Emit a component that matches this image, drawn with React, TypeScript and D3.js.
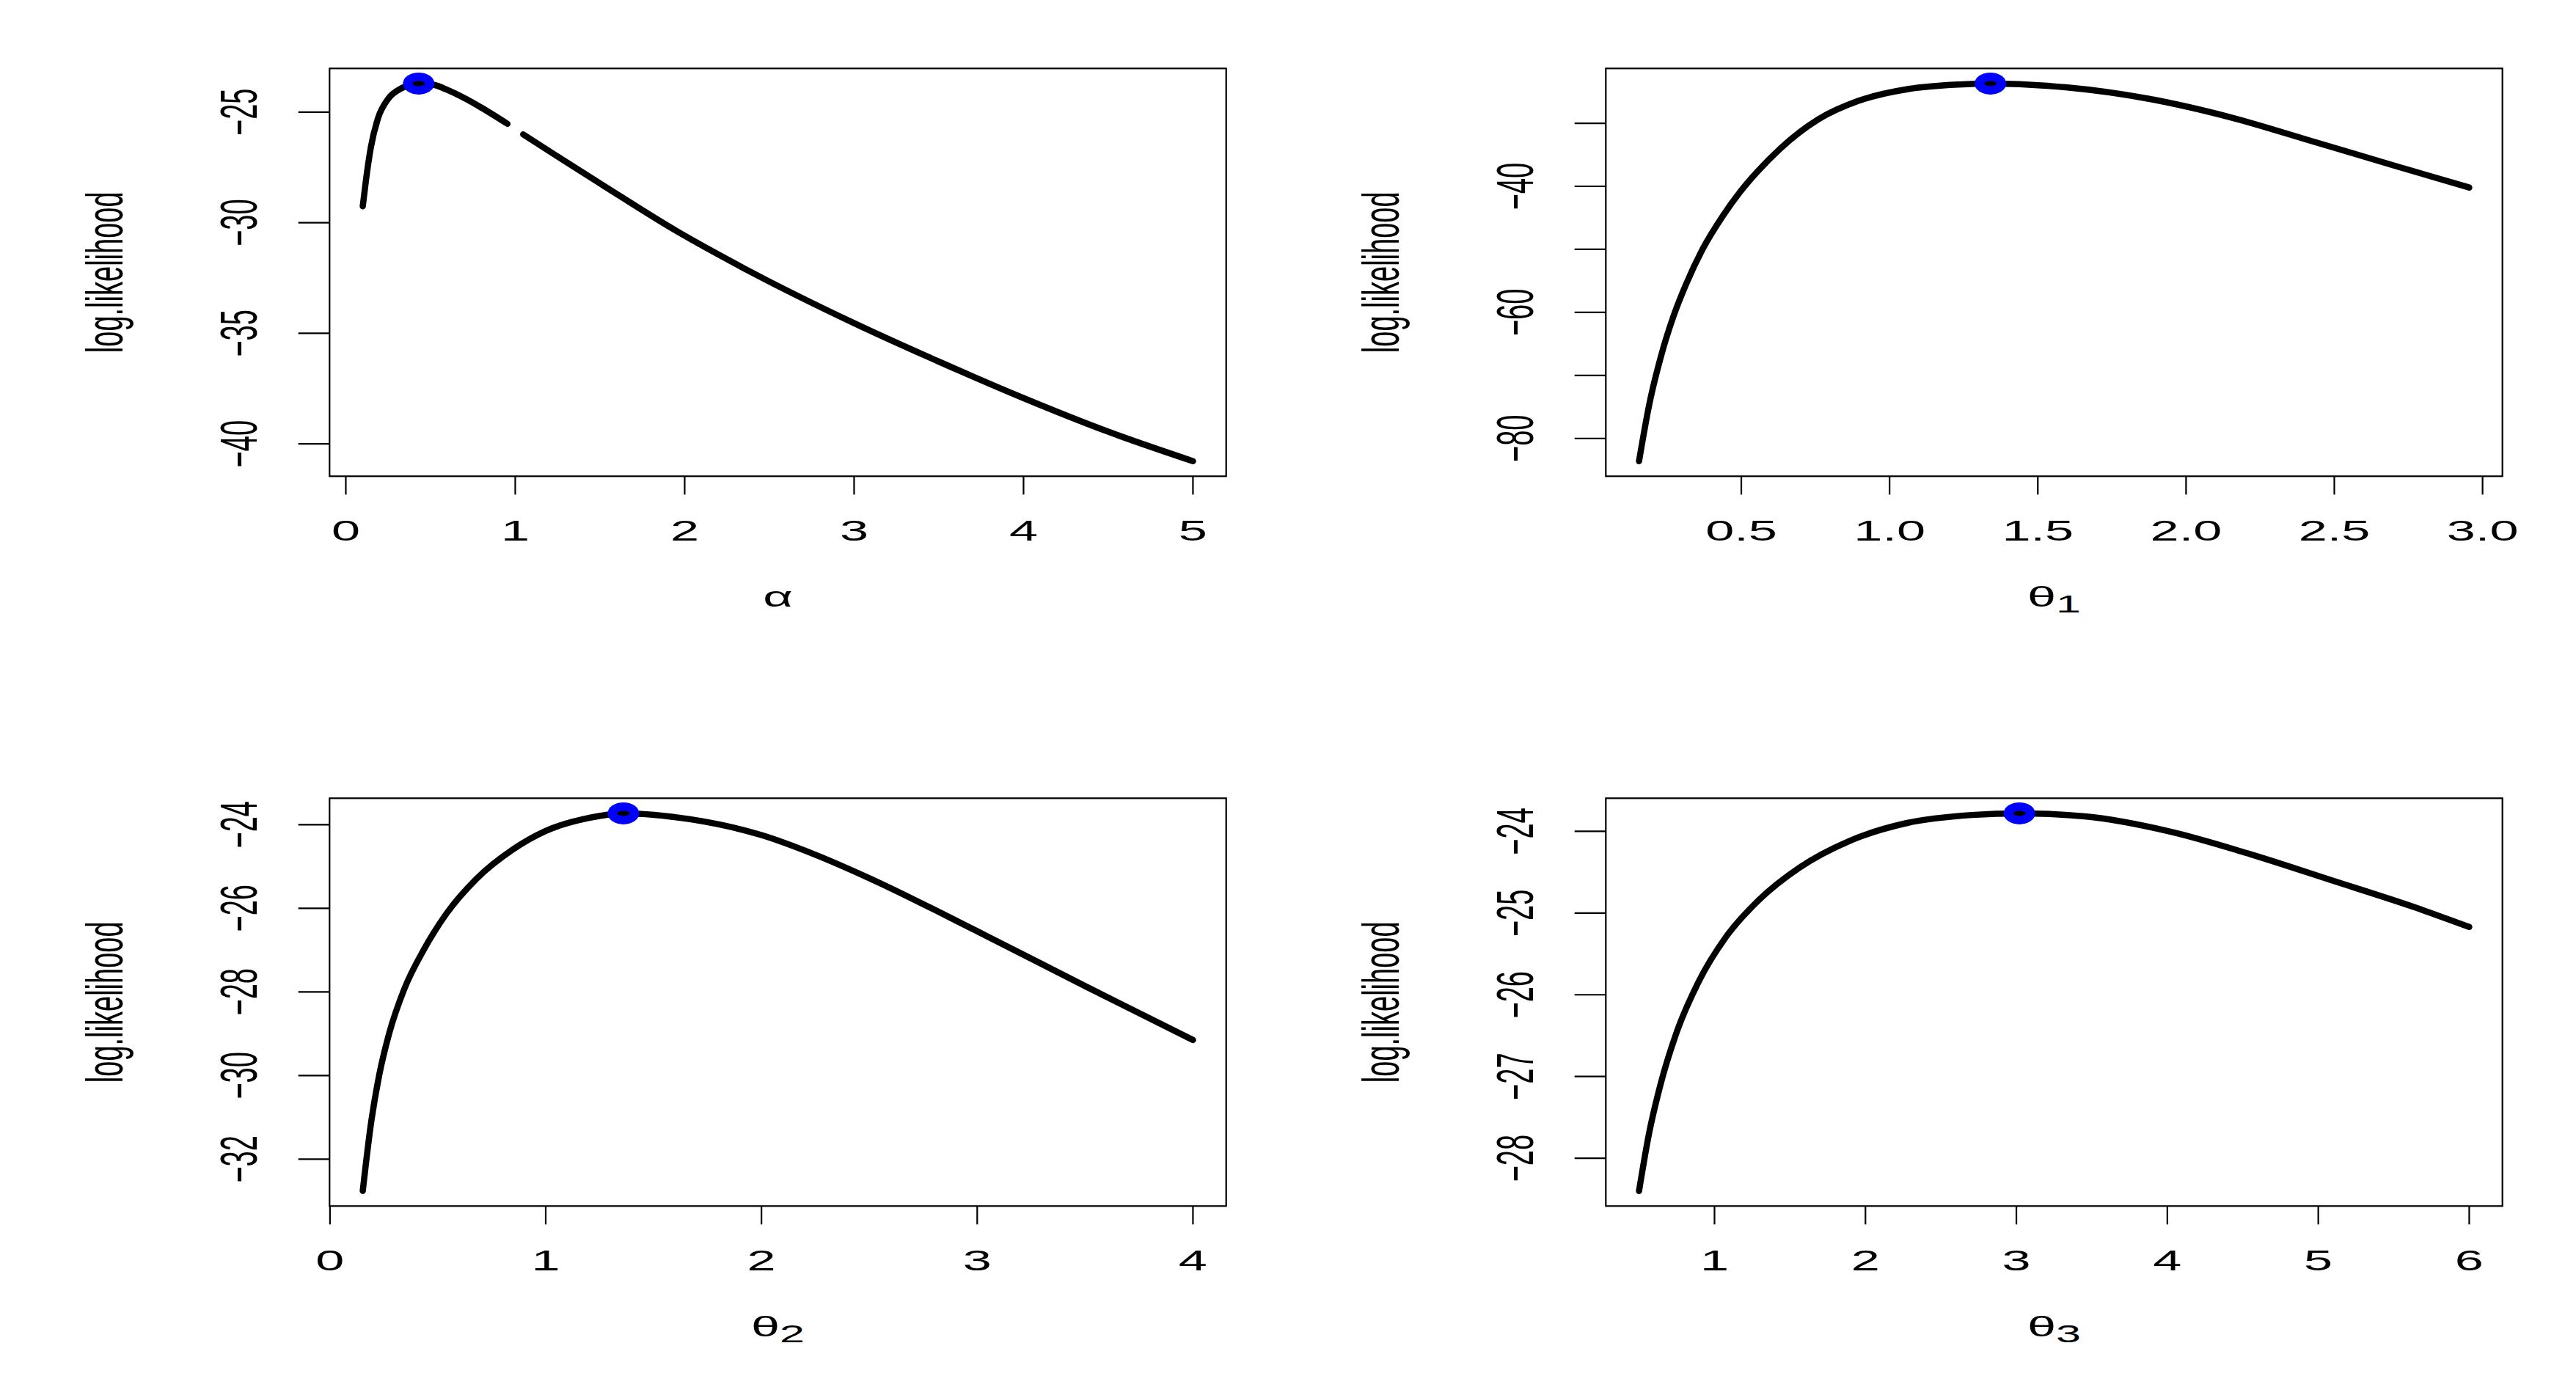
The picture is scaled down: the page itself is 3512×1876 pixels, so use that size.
import React from 'react';
import * as d3 from 'd3';

// values (log-likelihood profiles)
const alphaX = [0.1, 0.118, 0.147, 0.19, 0.248, 0.327, 0.43, 0.52, 0.6, 0.7, 0.8, 0.954, 1.0, 1.047, 1.244, 1.526, 1.948, 2.347, 3.005, 3.5, 4.0, 4.5, 5.0];
const alphaLL = [-29.26, -28.13, -26.62, -25.28, -24.42, -23.93, -23.71, -23.77, -24.0, -24.37, -24.8, -25.53, null, -26.01, -26.98, -28.35, -30.36, -32.05, -34.56, -36.28, -37.93, -39.45, -40.78];

const theta1X = [0.155, 0.19, 0.23, 0.272, 0.313, 0.369, 0.439, 0.494, 0.55, 0.634, 0.759, 0.898, 1.065, 1.232, 1.34, 1.594, 1.872, 2.151, 2.429, 2.708, 2.955];
const theta1LL = [-83.6, -74.5, -66.8, -60.5, -55.6, -50.0, -44.6, -41.0, -37.9, -33.9, -29.4, -26.4, -24.55, -23.85, -23.7, -24.3, -26.1, -29.07, -32.9, -36.8, -40.2];

const theta2X = [0.152, 0.19, 0.229, 0.274, 0.343, 0.434, 0.541, 0.678, 0.846, 1.0, 1.2, 1.36, 1.669, 2.0, 2.25, 2.5, 3.0, 3.5, 4.0];
const theta2LL = [-32.76, -31.15, -29.97, -29.0, -27.95, -27.0, -26.12, -25.3, -24.6, -24.15, -23.84, -23.73, -23.87, -24.25, -24.72, -25.28, -26.55, -27.86, -29.15];

const theta3X = [0.5, 0.566, 0.642, 0.751, 0.892, 1.077, 1.294, 1.566, 1.891, 2.271, 2.705, 3.02, 3.466, 4.01, 4.55, 5.09, 5.64, 6.0];
const theta3LL = [-28.4, -27.7, -27.1, -26.45, -25.85, -25.29, -24.84, -24.44, -24.12, -23.9, -23.8, -23.78, -23.82, -24.0, -24.28, -24.6, -24.93, -25.17];

const maxPoints = [[0.43, -23.71], [1.34, -23.7], [1.36, -23.73], [3.02, -23.78]];

const xTicks = [[0, 1, 2, 3, 4, 5], [0.5, 1.0, 1.5, 2.0, 2.5, 3.0], [0, 1, 2, 3, 4], [1, 2, 3, 4, 5, 6]];
const xTickLabels = [['0', '1', '2', '3', '4', '5'], ['0.5', '1.0', '1.5', '2.0', '2.5', '3.0'], ['0', '1', '2', '3', '4'], ['1', '2', '3', '4', '5', '6']];
const yTicks = [[-25, -30, -35, -40], [-30, -40, -50, -60, -70, -80], [-24, -26, -28, -30, -32], [-24, -25, -26, -27, -28]];
const yTickLabels = [['-25', '-30', '-35', '-40'], ['', '-40', '', '-60', '', '-80'], ['-24', '-26', '-28', '-30', '-32'], ['-24', '-25', '-26', '-27', '-28']];
const xLabels = [['α', ''], ['θ', '1'], ['θ', '2'], ['θ', '3']];
const yLabel = 'log.likelihood';

const W = 3512;
const H = 1876;
const FONT = '"Liberation Sans", Arial, Helvetica, sans-serif';
const STRETCH = 1.85;
const FS = 38;

const boxes = [
  { x0: 449.3, x1: 1671.7, y0: 93.3, y1: 649.3 },
  { x0: 2189.3, x1: 3411.7, y0: 93.3, y1: 649.3 },
  { x0: 449.3, x1: 1671.7, y0: 1088.3, y1: 1644.3 },
  { x0: 2189.3, x1: 3411.7, y0: 1088.3, y1: 1644.3 },
];

const series = [
  { xs: alphaX, ys: alphaLL },
  { xs: theta1X, ys: theta1LL },
  { xs: theta2X, ys: theta2LL },
  { xs: theta3X, ys: theta3LL },
];

// R-style range with 4% expansion
const padded = (vals) => {
  const [a, b] = d3.extent(vals.filter((v) => v != null));
  const p = (b - a) * 0.04;
  return [a - p, b + p];
};

const SText = ({ x, y, rotate, children, size = FS }) => (
  <g transform={`translate(${x},${y}) scale(${STRETCH},1)`}>
    <text
      transform={rotate ? 'rotate(-90)' : undefined}
      textAnchor="middle"
      fontFamily={FONT}
      fontSize={size}
      fill="#000"
    >
      {children}
    </text>
  </g>
);

function Panel({ i }) {
  const b = boxes[i];
  const s = series[i];
  const x = d3.scaleLinear().domain(padded(s.xs)).range([b.x0, b.x1]);
  const y = d3.scaleLinear().domain(padded(s.ys)).range([b.y1, b.y0]);
  const pts = s.xs.map((v, k) => [v, s.ys[k]]);
  const line = d3
    .line()
    .defined((d) => d[1] != null)
    .x((d) => x(d[0]))
    .y((d) => y(d[1]))
    .curve(d3.curveMonotoneX);
  const [mx, my] = maxPoints[i];
  const cx = (b.x0 + b.x1) / 2;
  const cy = (b.y0 + b.y1) / 2;
  const [lab, sub] = xLabels[i];

  return (
    <g>
      <path d={line(pts)} fill="none" stroke="#000" strokeWidth={8.5} strokeLinecap="round" strokeLinejoin="round" />
      <ellipse cx={x(mx)} cy={y(my)} rx={21.5} ry={15} fill="#0000ff" />
      <ellipse cx={x(mx)} cy={y(my)} rx={8.5} ry={3.5} fill="#000" />
      <rect x={b.x0} y={b.y0} width={b.x1 - b.x0} height={b.y1 - b.y0} fill="none" stroke="#000" strokeWidth={2.2} />
      {xTicks[i].map((t, k) => (
        <g key={'x' + k}>
          <line x1={x(t)} x2={x(t)} y1={b.y1} y2={b.y1 + 25} stroke="#000" strokeWidth={2.2} />
          <SText x={x(t)} y={b.y1 + 87.4}>{xTickLabels[i][k]}</SText>
        </g>
      ))}
      {yTicks[i].map((t, k) => (
        <g key={'y' + k}>
          <line x1={b.x0 - 42.6} x2={b.x0} y1={y(t)} y2={y(t)} stroke="#000" strokeWidth={2.2} />
          {yTickLabels[i][k] && (
            <SText x={b.x0 - 99} y={y(t)} rotate>
              {yTickLabels[i][k].replace('-', '\u2212')}
            </SText>
          )}
        </g>
      ))}
      <SText x={b.x0 - 282.6} y={cy} rotate>{yLabel}</SText>
      <SText x={cx} y={b.y1 + 178}>
        {lab}
        {sub && (
          <tspan fontSize={33} dy={8}>{sub}</tspan>
        )}
      </SText>
    </g>
  );
}

export default function App() {
  return (
    <svg
      width={W}
      height={H}
      viewBox={`0 0 ${W} ${H}`}
      style={{ position: 'absolute', left: 0, top: 0, background: '#fff' }}
    >
      <rect width={W} height={H} fill="#fff" />
      {[0, 1, 2, 3].map((i) => (
        <Panel key={i} i={i} />
      ))}
    </svg>
  );
}
